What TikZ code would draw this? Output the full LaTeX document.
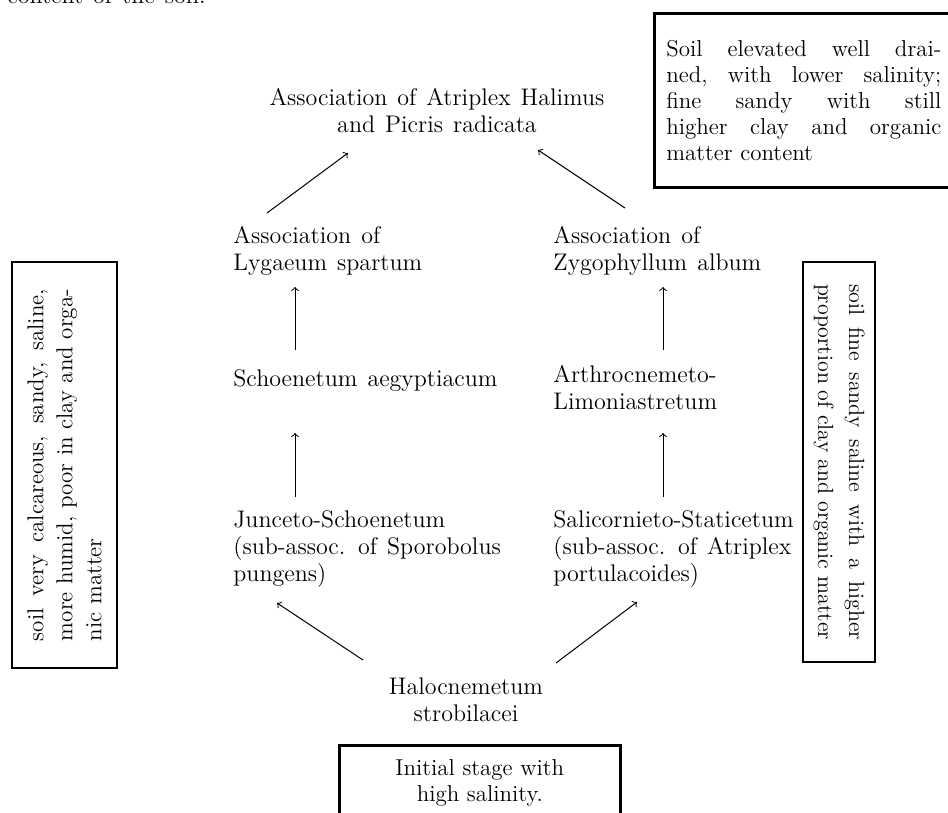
\documentclass[tikz,border=0pt]{standalone}
\usetikzlibrary{arrows}

\newcommand{\fillline}[2]{\leavevmode\hbox to #1{#2}}
\newcommand{\stagefont}{\fontsize{12}{13.5}\selectfont\spaceskip=0.42em plus 0.1em\relax}

\tikzset{
  stage/.style={inner sep=0pt, align=left, anchor=west, font=\stagefont},
  soilbox/.style={draw, line width=1.3pt, align=left, font=\fontsize{11.5}{13}\selectfont},
  succ/.style={->, line width=0.5pt}
}

\begin{document}
\begin{tikzpicture}[x=0.5pt, y=-0.5pt, >=to]
    \useasboundingbox (0,0) rectangle (948,813);

    % stages of the succession
    \node[stage, anchor=base west] (prev) at (7,4) {content of the soil.};
    \node[stage, anchor=center, align=center] (atrip) at (437,111) {Association of Atriplex Halimus\\and Picris radicata};
    \node[stage] (lyg) at (233,251) {Association of\\Lygaeum spartum};
    \node[stage] (zygo) at (553,251) {Association of\\Zygophyllum album};
    \node[stage] (schoen) at (233,381) {Schoenetum aegyptiacum};
    \node[stage] (arthro) at (553,388) {Arthrocnemeto-\\Limoniastretum};
    \node[stage] (junc) at (233,549) {Junceto-Schoenetum\\(sub-assoc. of Sporobolus\\pungens)};
    \node[stage] (salic) at (553,549) {Salicornieto-Staticetum\\(sub-assoc. of Atriplex\\portulacoides)};
    \node[stage, anchor=center, align=center] (halo) at (466,700) {Halocnemetum\\strobilacei};

    % soil conditions
    \node[soilbox, anchor=north west, text width=137.5pt, inner xsep=6pt, minimum height=87pt] (soiltop) at (653,12)
        {\fillline{137.5pt}{Soil\hfill elevated\hfill well\hfill drai-}\\
         \fillline{137.5pt}{ned,\hfill with\hfill lower\hfill salinity;}\\
         \fillline{137.5pt}{fine\hfill sandy\hfill with\hfill still}\\
         \fillline{137.5pt}{higher\hfill clay\hfill and\hfill organic}\\
         matter content};
    \node[soilbox, rotate=90, text width=176pt, inner xsep=13.5pt, minimum height=52.5pt, font=\fontsize{11.5}{14.5}\selectfont] (soilleft) at (64.5,465)
        {\fillline{176pt}{soil\hfill very\hfill calcareous,\hfill sandy,\hfill saline,}\\
         \fillline{176pt}{more\hfill humid,\hfill poor\hfill in\hfill clay\hfill and\hfill orga-}\\
         nic matter};
    \node[soilbox, rotate=-90, text width=178pt, inner xsep=11pt, minimum height=36pt, font=\fontsize{11}{15.5}\selectfont] (soilright) at (839,462)
        {\fillline{178pt}{soil\hfill fine\hfill sandy\hfill saline\hfill with\hfill a\hfill higher}\\
         \fillline{178pt}{proportion\hfill of\hfill clay\hfill and\hfill organic\hfill matter}};
    \node[soilbox, anchor=north west, align=center, text width=140.5pt, inner xsep=0pt, inner ysep=7pt] (soilbot) at (338,744)
        {Initial stage with\\high salinity.\\[6pt]};

    % arrows
    \draw[succ] ([shift={(-103,-40)}]halo.center) -- ([shift={(44,54)}]junc.west);
    \draw[succ] ([shift={(90,-37)}]halo.center) -- ([shift={(84,53)}]salic.west);
    \draw[succ] ([shift={(62,-52)}]junc.west) -- ([shift={(62,52)}]schoen.west);
    \draw[succ] ([shift={(62,-31)}]schoen.west) -- ([shift={(62,36)}]lyg.west);
    \draw[succ] ([shift={(110,-52)}]salic.west) -- ([shift={(110,45)}]arthro.west);
    \draw[succ] ([shift={(110,-38)}]arthro.west) -- ([shift={(110,36)}]zygo.west);
    \draw[succ] ([shift={(34,-38)}]lyg.west) -- ([shift={(-89,42)}]atrip.center);
    \draw[succ] ([shift={(72,-43)}]zygo.west) -- ([shift={(101,39)}]atrip.center);
\end{tikzpicture}
\end{document}
